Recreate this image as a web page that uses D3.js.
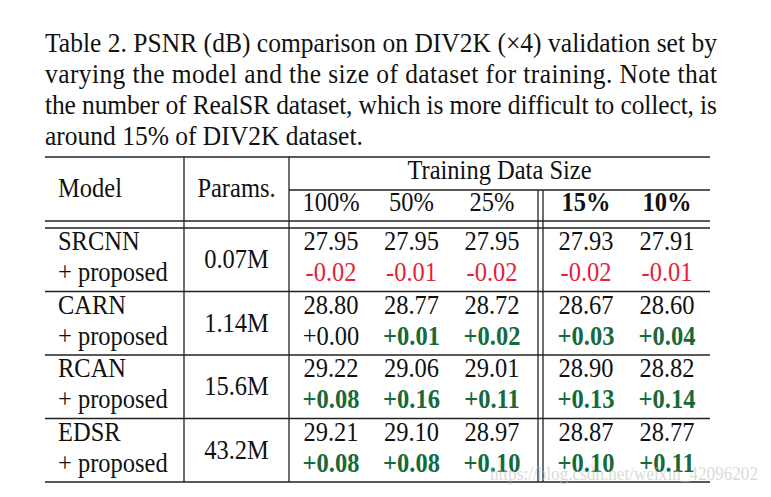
<!DOCTYPE html>
<html>
<head>
<meta charset="utf-8">
<script src="https://cdn.jsdelivr.net/npm/d3@7"></script>
<style>
  html, body { margin: 0; padding: 0; background: #fff; }
  svg { display: block; }
  text { font-family: "Liberation Serif", "Times New Roman", serif; }
</style>
</head>
<body>
<svg id="chart" width="771" height="497"></svg>
<script>
// ---- data ----
const captionLines = [
  "Table 2. PSNR (dB) comparison on DIV2K (\u00d74) validation set by",
  "varying the model and the size of dataset for training. Note that",
  "the number of RealSR dataset, which is more difficult to collect, is",
  "around 15% of DIV2K dataset."
];
const models = ["SRCNN", "CARN", "RCAN", "EDSR"];
const params = ["0.07M", "1.14M", "15.6M", "43.2M"];
const sizesFull = ["100%", "50%", "25%"];
const sizesReal = ["15%", "10%"];
const baseline = [
  [27.95, 27.95, 27.95, 27.93, 27.91],
  [28.80, 28.77, 28.72, 28.67, 28.60],
  [29.22, 29.06, 29.01, 28.90, 28.82],
  [29.21, 29.10, 28.97, 28.87, 28.77]
];
const gain = [
  [-0.02, -0.01, -0.02, -0.02, -0.01],
  [0.00, 0.01, 0.02, 0.03, 0.04],
  [0.08, 0.16, 0.11, 0.13, 0.14],
  [0.08, 0.08, 0.10, 0.10, 0.11]
];
const watermark = "https://blog.csdn.net/weixin_42096202";

// ---- layout ----
const svg = d3.select("#chart");
const lineColor = "#222";
const red = "#e8203a", green = "#16693a";
const left = 45, right = 710;
const capSize = 25.5, cellSize = 24.5, stretch = 1.1;

function txt(g, x, y, s, opts = {}) {
  const t = g.append("text")
    .attr("transform", `translate(${x},${y}) scale(1,${stretch})`)
    .attr("font-size", opts.size || cellSize)
    .attr("text-anchor", opts.anchor || "start")
    .attr("fill", opts.fill || "#111")
    .attr("font-weight", opts.bold ? "bold" : "normal")
    .text(s);
  if (opts.len) t.attr("textLength", opts.len).attr("lengthAdjust", "spacing");
  return t;
}

// caption
const capY = d3.scaleLinear().domain([0, 3]).range([52, 145]);
captionLines.forEach((l, i) => {
  txt(svg, left, capY(i), l, { size: capSize, len: i < captionLines.length - 1 ? 672 : null });
});

// scales
const xFull = d3.scalePoint().domain(sizesFull).range([331, 492]);
const xReal = d3.scalePoint().domain(sizesReal).range([586, 667]);
const colX = i => i < 3 ? xFull(sizesFull[i]) : xReal(sizesReal[i - 3]);
const yRow = d3.scaleBand().domain(models).range([228, 482]);
const xModel = 58, xParams = 236.5;

const g = svg.append("g");
function hline(x1, x2, y) {
  g.append("line").attr("x1", x1).attr("x2", x2).attr("y1", y).attr("y2", y)
    .attr("stroke", lineColor).attr("stroke-width", 1.3);
}
function vline(x, y1, y2) {
  g.append("line").attr("x1", x).attr("x2", x).attr("y1", y1).attr("y2", y2)
    .attr("stroke", lineColor).attr("stroke-width", 1.3);
}

// rules
hline(left, right, 157);
hline(289, right, 190);
hline(left, right, 221);
hline(left, right, 228);
models.forEach((m, i) => hline(left, right, yRow(m) + yRow.bandwidth()));
vline(184, 157, 482);
vline(289, 157, 482);
vline(538, 190, 482);
vline(543, 190, 482);

// header
txt(g, xModel, 197, "Model");
txt(g, xParams, 197, "Params.", { anchor: "middle" });
txt(g, (289 + right) / 2, 179, "Training Data Size", { anchor: "middle" });
sizesFull.forEach(s => txt(g, xFull(s), 211, s, { anchor: "middle" }));
sizesReal.forEach(s => txt(g, xReal(s), 211, s, { anchor: "middle", bold: true }));

// body
const fmtBase = d3.format(".2f");
models.forEach((m, i) => {
  const y0 = yRow(m);
  const bw = yRow.bandwidth();
  txt(g, xModel, y0 + 22, m);
  txt(g, xModel, y0 + 53, "+ proposed");
  txt(g, xParams, y0 + bw / 2 + 8.5, params[i], { anchor: "middle" });
  baseline[i].forEach((v, j) => {
    txt(g, colX(j), y0 + 22, fmtBase(v), { anchor: "middle" });
    const d = gain[i][j];
    let s, fill = "#111", bold = false;
    if (d > 0) { s = "+" + fmtBase(d); fill = green; bold = true; }
    else if (d < 0) { s = "-" + fmtBase(-d); fill = red; }
    else { s = "+" + fmtBase(0); }
    txt(g, colX(j), y0 + 53, s, { anchor: "middle", fill, bold });
  });
});

// watermark
svg.append("text")
  .attr("x", 490).attr("y", 480)
  .attr("font-family", "Liberation Sans, Arial, sans-serif")
  .attr("font-size", 19)
  .attr("fill", "#bdbdbd").attr("opacity", 0.55)
  .attr("textLength", 268).attr("lengthAdjust", "spacingAndGlyphs")
  .text(watermark);
</script>
</body>
</html>
